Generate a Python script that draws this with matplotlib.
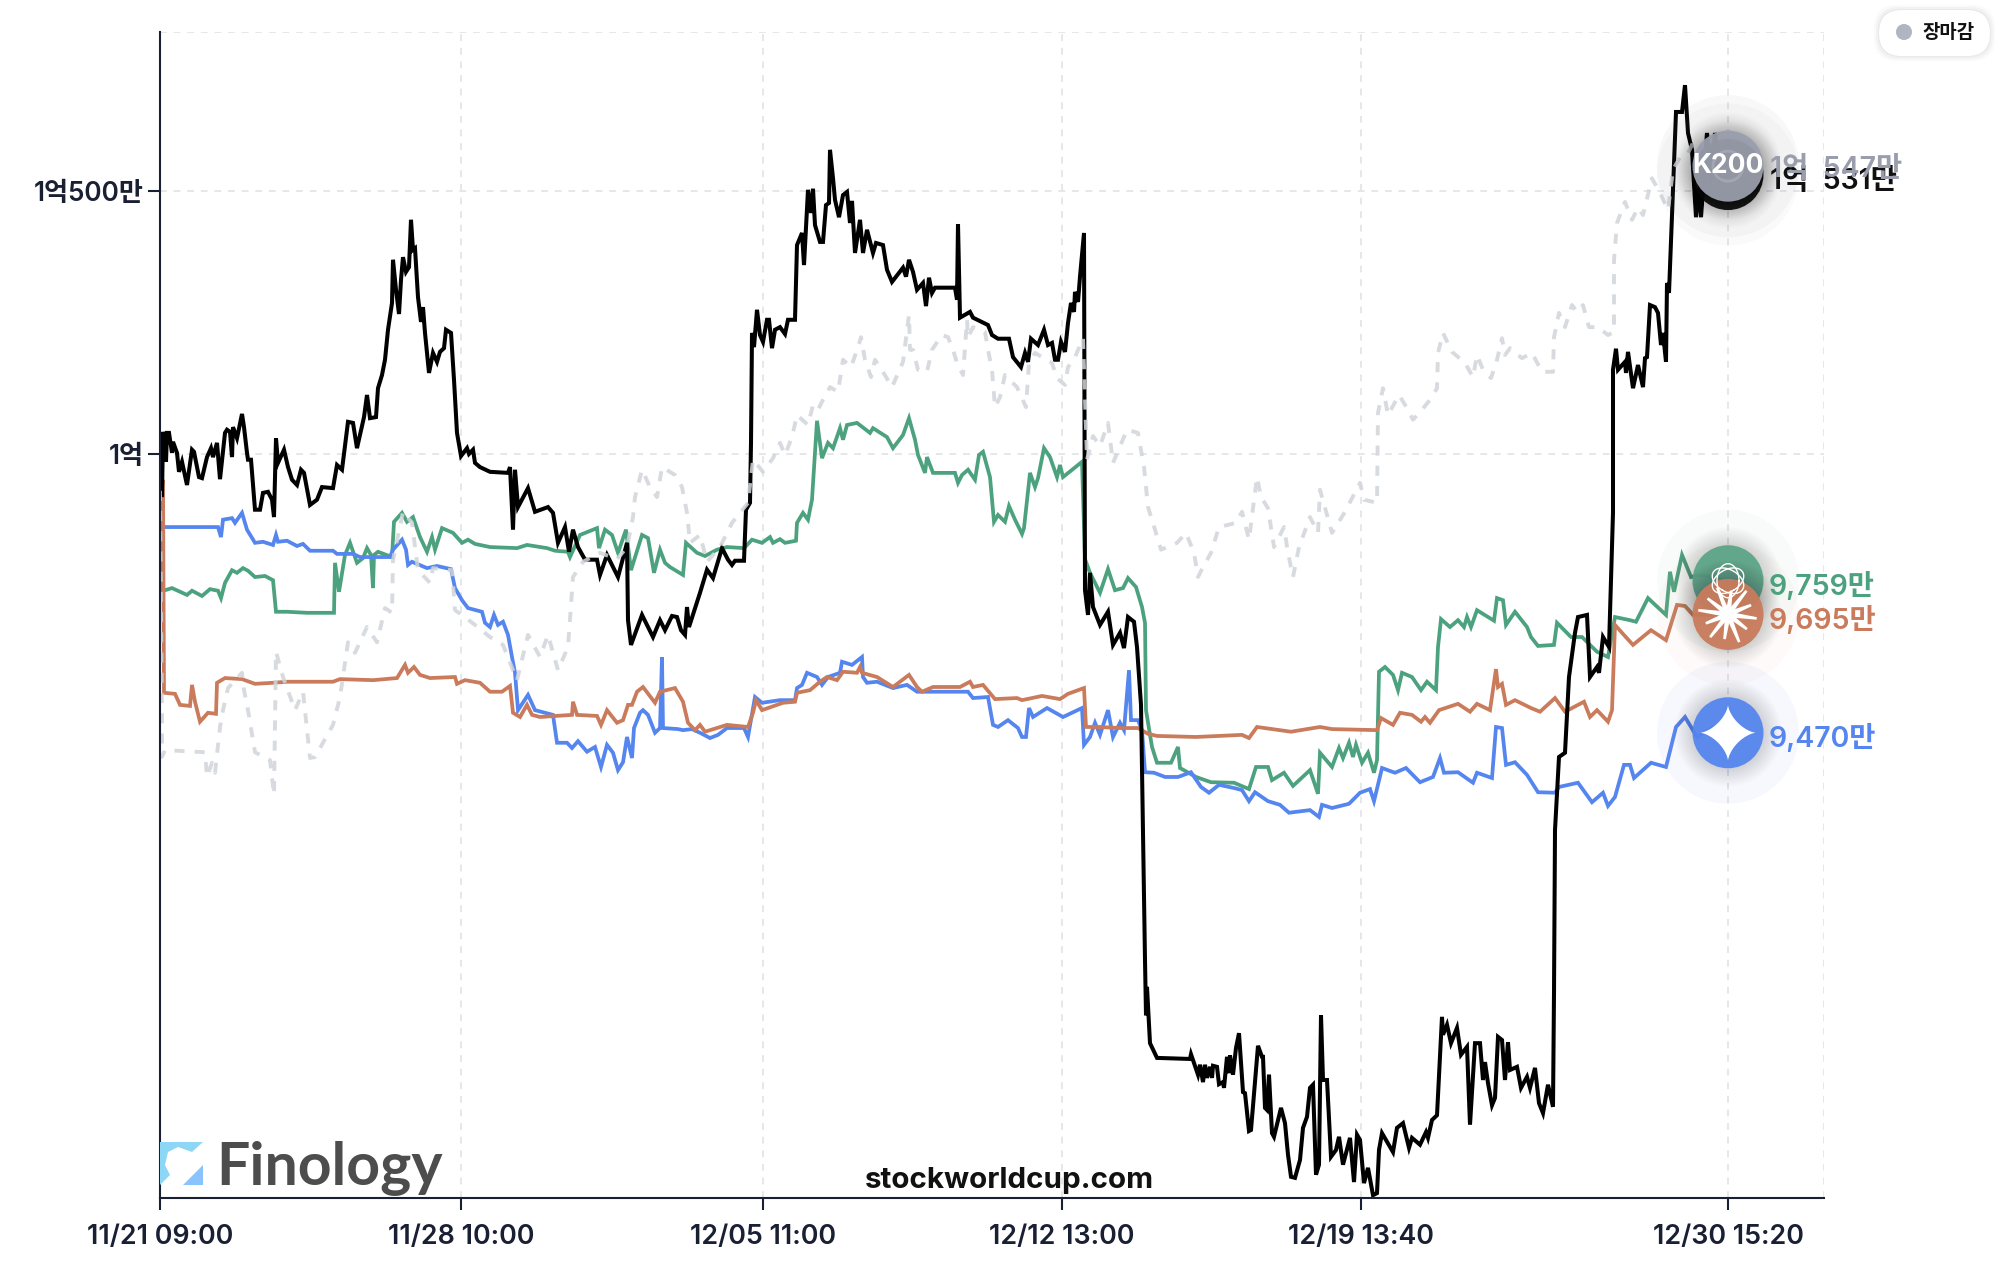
import matplotlib
matplotlib.use('Agg')
import matplotlib.pyplot as plt
import numpy as np
from matplotlib.patches import Circle, Polygon, FancyBboxPatch

# values in 만원, x = position on the category axis
tick_pos = [0, 301, 603, 902, 1201, 1568]
tick_labels = ['11/21 09:00', '11/28 10:00', '12/05 11:00', '12/12 13:00', '12/19 13:40', '12/30 15:20']
ytick_pos = [10000, 10500]
ytick_labels = ['1억', '1억500만']

black = [(0,9930),(1,10002),(2,9918),(3,10042),(6,9985),(7,10040),(9,10040),(12,10002),(13,10023),(17,10002),(19,9966),(22,9985),(27,9941),(32,10008),(34,10004),(39,9956),(42,9954),(47,9994),(51,10011),(53,9994),(57,10021),(60,9952),(65,10040),(67,10046),(70,10042),(72,9994),(73,10051),(77,10030),(82,10076),(84,10051),(87,10002),(88,9989),(91,9989),(95,9894),(100,9894),(103,9926),(108,9928),(112,9913),(114,9880),(116,10030),(118,9983),(124,10008),(128,9975),(132,9951),(137,9941),(141,9970),(144,9964),(150,9903),(157,9913),(162,9937),(173,9935),(177,9979),(182,9970),(188,10061),(193,10059),(197,10011),(204,10070),(207,10112),(210,10068),(216,10070),(218,10125),(222,10150),(225,10179),(228,10236),(232,10287),(233,10369),(236,10312),(239,10266),(241,10331),(243,10374),(246,10346),(249,10355),(251,10445),(253,10388),(255,10391),(258,10298),(261,10251),(263,10279),(265,10230),(269,10154),(273,10192),(277,10175),(280,10194),(284,10201),(286,10236),(291,10230),(294,10141),(297,10040),(301,9996),(307,10011),(309,10000),(313,10008),(315,9983),(320,9975),(330,9966),(348,9964),(350,9975),(353,9856),(355,9970),(358,9899),(368,9935),(375,9890),(388,9899),(393,9888),(398,9831),(405,9861),(409,9814),(413,9856),(418,9823),(425,9799),(437,9799),(440,9770),(447,9808),(458,9766),(467,9831),(468,9684),(471,9637),(482,9694),(493,9652),(500,9684),(505,9665),(512,9692),(517,9690),(521,9665),(525,9656),(527,9709),(529,9671),(540,9736),(547,9780),(553,9764),(562,9821),(568,9799),(572,9789),(575,9797),(584,9797),(586,9894),(590,9907),(591,10021),(592,10230),(594,10203),(597,10274),(600,10226),(603,10213),(607,10255),(609,10255),(612,10201),(615,10236),(620,10241),(625,10228),(628,10255),(635,10255),(637,10397),(642,10420),(644,10359),(648,10502),(651,10458),(653,10504),(655,10435),(660,10403),(663,10403),(666,10473),(669,10477),(670,10578),(673,10524),(675,10483),(679,10450),(683,10492),(687,10498),(690,10439),(692,10481),(695,10382),(700,10445),(703,10382),(707,10426),(713,10382),(716,10401),(723,10397),(727,10350),(732,10327),(743,10354),(746,10337),(749,10369),(753,10346),(757,10312),(763,10325),(766,10281),(769,10335),(772,10306),(775,10316),(795,10316),(797,10293),(798,10437),(800,10259),(810,10270),(813,10259),(828,10245),(832,10226),(838,10219),(849,10219),(853,10184),(861,10165),(865,10192),(868,10175),(871,10219),(878,10207),(884,10236),(888,10207),(892,10211),(895,10179),(898,10179),(901,10213),(905,10194),(908,10249),(911,10287),(914,10270),(915,10308),(918,10289),(920,10337),(924,10420),(925,9741),(928,9694),(930,9774),(933,9709),(940,9675),(948,9700),(953,9637),(960,9660),(964,9631),(968,9690),(974,9681),(977,9633),(981,9523),(985,9038),(986,8933),(987,8987),(990,8880),(997,8852),(1030,8850),(1031,8859),(1033,8848),(1038,8820),(1040,8839),(1043,8806),(1045,8839),(1047,8814),(1050,8835),(1052,8814),(1053,8837),(1057,8835),(1059,8802),(1063,8806),(1064,8795),(1067,8854),(1069,8823),(1070,8857),(1073,8820),(1076,8871),(1079,8899),(1083,8787),(1085,8785),(1089,8713),(1091,8715),(1098,8875),(1102,8854),(1103,8854),(1105,8757),(1107,8753),(1109,8820),(1112,8709),(1114,8702),(1121,8757),(1125,8728),(1128,8668),(1131,8626),(1135,8624),(1140,8658),(1143,8719),(1147,8740),(1150,8795),(1153,8801),(1156,8630),(1159,8649),(1161,8933),(1163,8810),(1167,8810),(1171,8664),(1176,8677),(1179,8702),(1183,8649),(1190,8700),(1194,8616),(1197,8706),(1200,8696),(1204,8614),(1208,8643),(1213,8591),(1217,8595),(1219,8677),(1222,8709),(1233,8673),(1237,8719),(1243,8728),(1249,8681),(1252,8700),(1260,8687),(1266,8711),(1268,8700),(1272,8734),(1277,8743),(1282,8930),(1283,8896),(1287,8915),(1291,8880),(1297,8909),(1301,8858),(1307,8873),(1310,8725),(1315,8880),(1320,8880),(1323,8810),(1325,8844),(1328,8804),(1332,8762),(1335,8776),(1338,8892),(1342,8886),(1345,8810),(1348,8882),(1350,8829),(1357,8835),(1361,8795),(1367,8816),(1370,8795),(1375,8833),(1379,8766),(1383,8747),(1388,8801),(1393,8759),(1394,8975),(1395,9285),(1399,9424),(1405,9432),(1409,9576),(1415,9660),(1418,9690),(1427,9694),(1430,9576),(1437,9595),(1439,9584),(1443,9652),(1449,9633),(1453,9888),(1453,10160),(1456,10200),(1458,10160),(1465,10175),(1466,10154),(1468,10194),(1473,10125),(1478,10169),(1483,10127),(1485,10182),(1487,10184),(1490,10283),(1495,10279),(1498,10268),(1501,10207),(1503,10230),(1506,10175),(1507,10325),(1509,10306),(1516,10650),(1522,10650),(1525,10701),(1528,10610),(1532,10578),(1536,10450),(1538,10507),(1541,10450),(1547,10610),(1551,10520),(1555,10610),(1560,10520),(1568,10531)]

green = [(0,9930),(1,9880),(2,9741),(5,9741),(12,9745),(27,9732),(32,9740),(42,9730),(50,9743),(58,9740),(61,9726),(65,9755),(72,9779),(77,9774),(83,9783),(88,9778),(95,9766),(105,9768),(113,9760),(116,9700),(127,9700),(147,9698),(174,9698),(175,9793),(179,9738),(185,9808),(190,9831),(197,9793),(203,9802),(207,9821),(211,9808),(213,9745),(214,9808),(218,9814),(232,9804),(234,9871),(242,9888),(247,9871),(253,9880),(260,9842),(267,9814),(272,9842),(275,9818),(282,9859),(293,9850),(302,9831),(308,9837),(315,9829),(330,9823),(357,9821),(367,9827),(387,9821),(395,9816),(408,9814),(410,9804),(420,9846),(437,9859),(439,9821),(445,9856),(452,9846),(458,9812),(466,9856),(471,9779),(482,9846),(488,9840),(494,9774),(500,9818),(505,9793),(510,9785),(523,9770),(526,9831),(537,9812),(545,9806),(557,9818),(567,9823),(584,9821),(592,9837),(602,9831),(610,9842),(613,9831),(620,9838),(625,9831),(636,9835),(637,9869),(643,9888),(648,9875),(652,9913),(657,10063),(662,9992),(668,10021),(673,10011),(680,10049),(683,10027),(687,10055),(697,10059),(710,10040),(713,10049),(727,10032),(733,10011),(743,10036),(749,10068),(755,10027),(758,9998),(765,9964),(767,9994),(773,9964),(795,9964),(798,9945),(802,9960),(808,9970),(815,9951),(819,9998),(823,10004),(830,9956),(834,9871),(838,9884),(845,9871),(849,9901),(855,9875),(862,9848),(864,9859),(870,9964),(875,9937),(878,9954),(884,10011),(890,9994),(897,9956),(900,9979),(903,9956),(922,9985),(925,9800),(930,9774),(940,9736),(948,9781),(955,9741),(963,9745),(968,9764),(976,9747),(982,9709),(985,9679),(986,9513),(992,9443),(997,9413),(1011,9413),(1018,9443),(1020,9403),(1036,9386),(1051,9376),(1074,9375),(1089,9363),(1096,9405),(1108,9405),(1112,9380),(1124,9394),(1133,9369),(1150,9399),(1158,9354),(1160,9432),(1172,9405),(1179,9441),(1183,9422),(1189,9451),(1193,9424),(1196,9447),(1202,9413),(1208,9432),(1214,9394),(1217,9418),(1219,9586),(1225,9595),(1233,9580),(1238,9551),(1242,9584),(1252,9576),(1261,9551),(1267,9567),(1276,9551),(1278,9633),(1281,9686),(1290,9671),(1298,9684),(1304,9671),(1307,9690),(1311,9671),(1317,9703),(1334,9683),(1337,9726),(1343,9722),(1346,9675),(1355,9700),(1367,9671),(1371,9652),(1378,9635),(1394,9637),(1397,9679),(1411,9652),(1422,9652),(1437,9624),(1448,9614),(1455,9690),(1470,9684),(1476,9681),(1488,9726),(1493,9717),(1506,9694),(1510,9776),(1514,9738),(1522,9808),(1531,9766),(1540,9770),(1568,9759)]

blue = [(0,9930),(1,9861),(5,9861),(58,9861),(61,9842),(63,9875),(72,9878),(75,9869),(82,9888),(87,9856),(95,9831),(103,9833),(113,9827),(116,9846),(118,9833),(127,9835),(137,9825),(143,9829),(150,9816),(173,9816),(177,9810),(193,9810),(200,9804),(230,9804),(233,9818),(242,9837),(246,9818),(248,9789),(252,9795),(267,9783),(277,9787),(291,9781),(295,9745),(302,9722),(308,9707),(322,9700),(325,9679),(330,9671),(334,9694),(338,9675),(343,9681),(348,9656),(352,9614),(355,9584),(358,9513),(368,9542),(375,9513),(393,9504),(397,9451),(407,9451),(412,9441),(418,9454),(427,9434),(435,9443),(441,9405),(447,9447),(453,9432),(458,9399),(463,9414),(467,9462),(472,9422),(474,9479),(480,9508),(483,9513),(488,9504),(495,9470),(500,9479),(502,9614),(503,9479),(518,9477),(523,9475),(532,9477),(540,9470),(550,9460),(558,9466),(567,9479),(584,9479),(588,9462),(595,9538),(602,9527),(620,9532),(635,9532),(637,9555),(642,9561),(647,9584),(657,9576),(662,9561),(668,9576),(680,9584),(682,9605),(692,9599),(702,9614),(703,9576),(707,9565),(717,9567),(733,9555),(747,9561),(757,9548),(808,9548),(813,9536),(828,9538),(833,9485),(838,9481),(848,9494),(858,9479),(862,9462),(866,9462),(869,9517),(873,9500),(887,9517),(903,9500),(922,9517),(924,9447),(930,9462),(935,9489),(940,9466),(948,9513),(953,9462),(960,9489),(964,9475),(969,9589),(971,9494),(978,9494),(982,9475),(985,9395),(994,9394),(1005,9386),(1018,9386),(1031,9395),(1041,9367),(1049,9356),(1059,9371),(1074,9365),(1082,9361),(1089,9340),(1095,9357),(1108,9340),(1120,9333),(1129,9318),(1150,9323),(1159,9310),(1162,9333),(1172,9327),(1189,9335),(1200,9356),(1210,9363),(1214,9340),(1222,9403),(1235,9394),(1246,9403),(1260,9376),(1273,9386),(1280,9422),(1284,9394),(1298,9395),(1313,9375),(1317,9394),(1332,9384),(1336,9481),(1342,9479),(1346,9409),(1355,9414),(1367,9390),(1378,9357),(1395,9356),(1399,9367),(1418,9375),(1432,9338),(1443,9356),(1448,9331),(1455,9348),(1464,9409),(1470,9409),(1474,9384),(1491,9413),(1506,9405),(1516,9481),(1525,9500),(1537,9462),(1553,9480),(1568,9470)]

orange = [(0,9930),(3,9951),(4,9546),(15,9544),(20,9523),(30,9521),(32,9561),(35,9529),(40,9491),(48,9508),(56,9506),(57,9565),(65,9574),(82,9572),(95,9563),(113,9565),(127,9567),(173,9567),(180,9572),(213,9570),(237,9574),(245,9599),(248,9584),(254,9595),(260,9580),(270,9574),(295,9576),(297,9563),(305,9570),(320,9565),(330,9548),(342,9548),(350,9559),(353,9508),(360,9500),(367,9523),(372,9504),(380,9500),(412,9504),(413,9529),(417,9504),(437,9502),(441,9485),(447,9513),(457,9489),(463,9494),(468,9523),(472,9523),(477,9548),(483,9557),(495,9527),(500,9548),(515,9555),(523,9529),(528,9489),(535,9475),(540,9485),(545,9472),(567,9485),(588,9481),(593,9508),(596,9532),(602,9513),(623,9527),(635,9529),(637,9546),(650,9551),(660,9567),(667,9576),(677,9570),(683,9586),(697,9584),(700,9595),(702,9584),(717,9576),(733,9557),(749,9580),(757,9557),(762,9548),(773,9557),(800,9557),(810,9567),(813,9557),(823,9561),(835,9534),(857,9536),(862,9532),(882,9540),(900,9534),(908,9544),(924,9555),(926,9481),(940,9481),(960,9479),(978,9479),(988,9468),(997,9464),(1036,9462),(1082,9466),(1089,9460),(1097,9481),(1131,9472),(1160,9481),(1172,9477),(1217,9475),(1221,9498),(1233,9485),(1240,9508),(1252,9504),(1261,9491),(1265,9500),(1270,9489),(1279,9513),(1298,9525),(1310,9510),(1317,9525),(1330,9513),(1336,9591),(1338,9557),(1342,9563),(1346,9523),(1355,9532),(1371,9517),(1380,9510),(1395,9536),(1405,9510),(1424,9529),(1430,9500),(1437,9513),(1448,9491),(1452,9513),(1455,9675),(1462,9660),(1473,9637),(1491,9665),(1506,9646),(1517,9713),(1525,9711),(1533,9694),(1568,9695)]

k200 = [(0,9930),(2,9508),(2,9424),(5,9437),(45,9433),(47,9386),(52,9413),(55,9394),(60,9481),(63,9513),(68,9555),(82,9584),(84,9551),(88,9513),(95,9433),(110,9418),(114,9352),(116,9624),(123,9576),(135,9513),(143,9548),(150,9422),(155,9424),(173,9485),(180,9538),(188,9642),(195,9622),(207,9671),(217,9642),(225,9707),(232,9698),(233,9798),(243,9890),(252,9869),(258,9779),(270,9755),(273,9783),(292,9779),(295,9703),(302,9694),(315,9675),(330,9652),(343,9637),(357,9570),(368,9656),(380,9614),(388,9656),(398,9589),(408,9633),(413,9766),(423,9795),(440,9812),(457,9800),(467,9823),(473,9880),(475,9918),(482,9970),(490,9937),(497,9918),(502,9975),(515,9960),(522,9937),(527,9888),(530,9831),(540,9846),(547,9795),(560,9823),(572,9869),(588,9907),(593,9989),(603,9966),(613,9992),(620,10021),(625,9998),(632,10032),(637,10074),(648,10055),(653,10093),(658,10084),(663,10103),(670,10127),(678,10118),(683,10179),(691,10165),(698,10203),(701,10222),(705,10179),(711,10146),(715,10179),(723,10156),(732,10127),(743,10175),(749,10264),(750,10198),(753,10198),(758,10160),(767,10156),(772,10198),(782,10226),(788,10222),(793,10198),(797,10173),(803,10150),(807,10255),(808,10222),(813,10241),(825,10232),(828,10198),(832,10160),(835,10089),(840,10108),(845,10150),(857,10127),(866,10089),(869,10173),(875,10192),(892,10173),(897,10144),(905,10131),(908,10165),(915,10184),(923,10220),(927,9989),(933,10034),(940,10015),(948,10059),(953,9983),(967,10046),(978,10040),(984,9975),(986,9937),(988,9899),(995,9856),(1001,9818),(1017,9831),(1026,9850),(1034,9812),(1038,9766),(1043,9785),(1051,9812),(1059,9861),(1076,9869),(1082,9890),(1089,9837),(1097,9956),(1101,9918),(1108,9897),(1114,9823),(1124,9861),(1128,9812),(1133,9766),(1139,9823),(1150,9880),(1158,9850),(1160,9932),(1172,9850),(1185,9890),(1200,9945),(1204,9913),(1217,9907),(1218,10078),(1223,10125),(1228,10074),(1239,10112),(1248,10084),(1253,10065),(1262,10084),(1270,10103),(1277,10125),(1278,10192),(1283,10230),(1292,10194),(1305,10173),(1313,10146),(1317,10188),(1323,10160),(1331,10144),(1337,10179),(1342,10220),(1345,10188),(1350,10201),(1362,10182),(1372,10192),(1382,10156),(1393,10156),(1394,10222),(1399,10268),(1405,10241),(1412,10283),(1417,10270),(1423,10283),(1429,10241),(1438,10241),(1448,10226),(1454,10232),(1454,10369),(1457,10439),(1465,10479),(1472,10445),(1478,10468),(1483,10454),(1492,10524),(1500,10496),(1508,10464),(1513,10540),(1520,10564),(1528,10572),(1533,10591),(1568,10547)]

GREEN = '#4ca27f'
BLUE = '#5585ee'
ORANGE = '#c97b5b'
GREY = '#9a9eac'
DARK = '#1a2033'
FONT = ['Inter', 'Noto Sans CJK KR', 'DejaVu Sans']

plt.rcParams['font.family'] = FONT
W, H = 2012, 1276
fig = plt.figure(figsize=(W / 100, H / 100), dpi=100)
ax = fig.add_axes([160 / W, (H - 1198) / H, 1664 / W, 1166 / H])
ax.set_xlim(0, 1664)
ax.set_ylim(8585.7, 10802)

ax.set_xticks(tick_pos, tick_labels)
ax.set_yticks(ytick_pos, ytick_labels)
ax.tick_params(axis='x', length=8.3, width=1.5, color=DARK, labelcolor=DARK, labelsize=19.3, pad=10.5)
ax.tick_params(axis='y', length=8.3, width=1.5, color=DARK, labelcolor=DARK, labelsize=18.8, pad=3.5)
for lab in ax.get_xticklabels() + ax.get_yticklabels():
    lab.set_fontweight(600)

for s in ['top', 'right']:
    ax.spines[s].set_visible(False)
for s in ['left', 'bottom']:
    ax.spines[s].set_color(DARK)
    ax.spines[s].set_linewidth(1.5)
    ax.spines[s].set_zorder(8)

grid_kw = dict(color='#e5e7eb', lw=1.4, ls=(0, (3.5, 3.5)), zorder=1)
for x in tick_pos[1:] + [1664]:
    ax.axvline(x, **grid_kw)
for y in ytick_pos + [10802]:
    ax.axhline(y, **grid_kw)

# series, in the stacking order of the original
for pts, col, z, w in [(green, GREEN, 3, 2.7), (blue, BLUE, 4, 2.7), (orange, ORANGE, 5, 2.7), (black, '#000000', 6, 2.9)]:
    x, y = zip(*pts)
    ax.plot(x, y, color=col, lw=w, zorder=z, solid_joinstyle='miter', solid_capstyle='butt')
x, y = zip(*k200)
ax.plot(x, y, color='#d1d5db', lw=2.8, ls=(0, (2.6, 2.6)), alpha=0.85, zorder=7)

ax.text(0.5104, 4 / 1166, 'stockworldcup.com', transform=ax.transAxes, ha='center', va='bottom',
        fontsize=21.3, fontweight=700, color='#111111', zorder=9)
ax.text(56 / 1664, 13 / 1166, 'Finology', transform=ax.transAxes, ha='left', va='baseline', fontsize=42.5,
        fontweight=700, color='#4d4d4d', clip_on=True, zorder=2, family=['Lato', 'DejaVu Sans'])

# overlay in pixel coordinates for the end markers
ov = fig.add_axes([0, 0, 1, 1], facecolor='none')
ov.set_xlim(0, W)
ov.set_ylim(H, 0)
ov.axis('off')


def center(v):
    px, py = ax.transData.transform((1568, v))
    return px, H - py


def marker(v, col, halo, halo_alpha=0.07):
    cx, cy = center(v)
    ov.add_patch(Circle((cx, cy), 71, fc=halo, ec='none', alpha=halo_alpha))
    for r in range(54, 35, -1):
        ov.add_patch(Circle((cx, cy), r, fc='#000000', ec='none', alpha=0.006))
    ov.add_patch(Circle((cx, cy), 35.5, fc=col, ec='none', alpha=0.95))
    return cx, cy


# logo
ov.add_patch(Polygon([(160, 1142), (203, 1142), (192, 1152), (178, 1147), (168, 1152), (165, 1165), (170, 1175),
                      (160, 1185)], fc='#8ed6f5', ec='none'))
ov.add_patch(Polygon([(183, 1185), (203, 1185), (203, 1165)], fc='#8ac4ff', ec='none'))

# blue
cx, cy = marker(9470, BLUE, '#8ea8f0')
t = np.linspace(0, 2 * np.pi, 120)
ov.add_patch(Polygon(np.c_[cx + 28 * np.cos(t) ** 3, cy + 28 * np.sin(t) ** 3], fc='white', ec='none'))

# black and k200
cx, cy = marker(10531, '#111111', '#777777', 0.03)
cx, cy = marker(10547, GREY, '#777777', 0.05)
ov.add_patch(Circle((cx, cy), 15, fc='none', ec='#aeb2bd', lw=2, alpha=0.6))
ov.text(cx, cy, 'K200', color='white', fontsize=19, fontweight=700, ha='center', va='center')

# green
cx, cy = marker(9759, '#56a587', '#7fb9a0', 0.05)
for ang in (0, 60, 120):
    a = np.radians(ang)
    ex, ey = 11 * np.cos(t), 17 * np.sin(t)
    ov.plot(cx + ex * np.cos(a) - ey * np.sin(a), cy + ex * np.sin(a) + ey * np.cos(a), color='white', lw=1.0)

# orange
cx, cy = marker(9695, ORANGE, '#e0a58d', 0.05)
ray_len = [29, 24, 30, 25, 29, 24, 30, 26, 29, 24, 30, 25]
for i, rl in enumerate(ray_len):
    a = np.radians(8 + i * 30)
    n = np.array([-np.sin(a), np.cos(a)])
    d = np.array([np.cos(a), np.sin(a)])
    c = np.array([cx, cy])
    ov.add_patch(Polygon([c + d * 4 - n * 2.6, c + d * 4 + n * 2.6, c + d * rl + n * 1.3, c + d * rl - n * 1.3],
                         fc='white', ec='none'))
ov.add_patch(Circle((cx, cy), 7, fc='white', ec='none'))

# end labels
lab_kw = dict(fontsize=20.5, fontweight=600, va='center', ha='left')
ov.text(1770, 181, '1억  531만', color='#111111', **lab_kw)
ov.text(1770, 170, '1억  547만', color=GREY, **lab_kw)
ov.text(1769, 586, '9,759만', color=GREEN, **lab_kw)
ov.text(1769, 620, '9,695만', color=ORANGE, **lab_kw)
ov.text(1769, 738, '9,470만', color=BLUE, **lab_kw)

# legend pill
for grow, col, al in [(5, '#000000', 0.02), (3, '#000000', 0.03), (1, '#000000', 0.04), (0, 'white', 1)]:
    ov.add_patch(FancyBboxPatch((1902 - grow, 32 - grow + 1), 65 + 2 * grow, 0.1 + 2 * grow,
                                boxstyle='round,pad=23,rounding_size=23', fc=col, ec='none', alpha=al))
ov.add_patch(Circle((1904, 32), 8, fc='#b0b5c2', ec='none'))
ov.text(1948.5, 33.5, '장마감', color='#111111', fontsize=13.6, fontweight=700, ha='center', va='center')

fig.savefig('out.png', dpi=100, facecolor='white')
